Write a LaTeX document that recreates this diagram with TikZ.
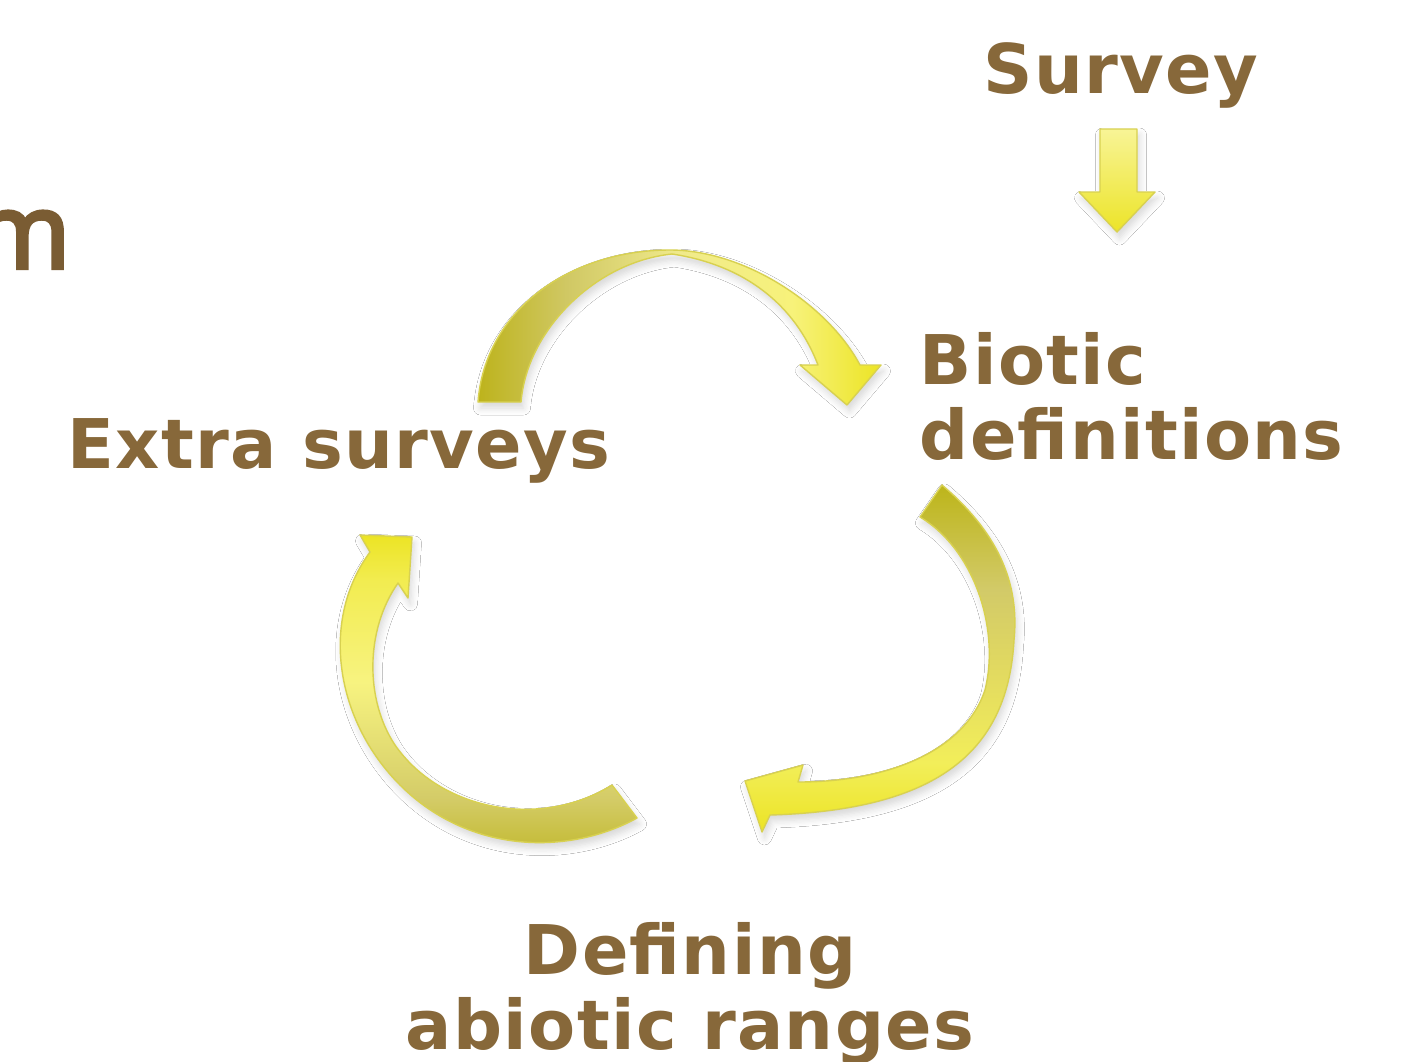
\documentclass[tikz,border=0pt]{standalone}
\usepackage{fontspec}
\setmainfont{DejaVu Sans}
\newfontfamily\headingfont[FakeBold=4]{Open Sans}
\usetikzlibrary{shadows.blur}

\definecolor{labelbrown}{HTML}{87683A}
\definecolor{headbrown}{HTML}{7A5C33}
\definecolor{arrowedge}{HTML}{D8D150}

% gradients of the cycle arrows (the 25bp..75bp band spans the arrow)
\pgfdeclarehorizontalshading{toparc}{100bp}{
  color(0bp)=(rgb,255:red,189;green,179;blue,28);
  color(25bp)=(rgb,255:red,189;green,179;blue,28);
  color(36bp)=(rgb,255:red,208;green,200;blue,100);
  color(50bp)=(rgb,255:red,240;green,234;blue,140);
  color(64bp)=(rgb,255:red,247;green,242;blue,122);
  color(75bp)=(rgb,255:red,236;green,228;blue,36);
  color(100bp)=(rgb,255:red,236;green,228;blue,36)}
\pgfdeclareverticalshading{rightarc}{100bp}{
  color(0bp)=(rgb,255:red,236;green,228;blue,36);
  color(25bp)=(rgb,255:red,236;green,228;blue,36);
  color(35bp)=(rgb,255:red,242;green,238;blue,90);
  color(48bp)=(rgb,255:red,226;green,218;blue,96);
  color(60bp)=(rgb,255:red,210;green,202;blue,104);
  color(75bp)=(rgb,255:red,189;green,181;blue,26);
  color(100bp)=(rgb,255:red,189;green,181;blue,26)}
\pgfdeclareverticalshading{leftarc}{100bp}{
  color(0bp)=(rgb,255:red,194;green,185;blue,48);
  color(25bp)=(rgb,255:red,194;green,185;blue,48);
  color(34bp)=(rgb,255:red,212;green,204;blue,104);
  color(52bp)=(rgb,255:red,247;green,243;blue,128);
  color(68bp)=(rgb,255:red,242;green,236;blue,80);
  color(75bp)=(rgb,255:red,236;green,228;blue,36);
  color(100bp)=(rgb,255:red,236;green,228;blue,36)}
\pgfdeclareverticalshading{downarrow}{100bp}{
  color(0bp)=(rgb,255:red,236;green,228;blue,40);
  color(25bp)=(rgb,255:red,236;green,228;blue,40);
  color(75bp)=(rgb,255:red,248;green,244;blue,150);
  color(100bp)=(rgb,255:red,248;green,244;blue,150)}

\tikzset{
  lbl/.style={text=labelbrown, inner sep=0pt,
    font=\fontsize{19.5pt}{21.3pt}\selectfont\bfseries\addfontfeature{LetterSpace=2}},
  cyclearrow/.style={draw=arrowedge, line width=0.4pt, line join=round,
    blur shadow={shadow xshift=0.25mm, shadow yshift=-0.6mm, shadow blur steps=6,
                 shadow blur radius=0.7mm, shadow blur extra rounding=0mm,
                 shadow opacity=16}},
}

\begin{document}
\begin{tikzpicture}[x=0.1mm, y=-0.1mm]
\useasboundingbox (0,0) rectangle (1411,1061);
\clip (0,0) rectangle (1411,1061);
\fill[white] (0,0) rectangle (1411,1061);

% tail of the slide title, cut by the left edge
\node[text=headbrown, font=\fontsize{29.5pt}{29.5pt}\headingfont, inner sep=0pt, anchor=base east]
  (title) at (71,268) {m};

% labels
\node[lbl, anchor=base west] (survey) at (983,93) {Survey};
\node[lbl, anchor=base west] (extra) at (67,468) {Extra surveys};
\node[lbl, anchor=north west, align=left] (biotic) at (919,332) {Biotic\\definitions};
\node[lbl, anchor=north, align=center] (abiotic) at (690,922) {Defining\\abiotic ranges};

% straight arrow from the survey into the cycle
\path[cyclearrow, shading=downarrow]
  (1100,129) -- (1137,129) -- (1137,192) -- (1155,192) -- (1117,232)
  -- (1079,192) -- (1100,192) -- cycle;

% extra surveys -> biotic definitions
\path[cyclearrow, shading=toparc]
  (478,402) .. controls (485,310) and (570,250) .. (670,250)
  .. controls (745,250) and (828,305) .. (860,365)
  -- (881,365) -- (847,405) -- (800,365) -- (818,365)
  .. controls (795,305) and (745,265) .. (672,254)
  .. controls (595,262) and (527,330) .. (521,402) -- cycle;

% biotic definitions -> defining abiotic ranges
\path[cyclearrow, shading=rightarc]
  (942,485) .. controls (995,530) and (1020,580) .. (1014,640)
  .. controls (1008,750) and (940,810) .. (770,815)
  -- (762,832) -- (745,781) -- (803,765) -- (798,782)
  .. controls (890,782) and (965,750) .. (985,690)
  .. controls (1000,630) and (975,550) .. (920,517) -- cycle;

% defining abiotic ranges -> extra surveys
\path[cyclearrow, shading=leftarc]
  (637,818) .. controls (570,855) and (470,855) .. (400,785)
  .. controls (335,720) and (320,620) .. (370,552)
  -- (360,535) -- (412,537) -- (408,598) -- (398,583)
  .. controls (365,630) and (365,700) .. (395,745)
  .. controls (440,810) and (540,830) .. (612,785) -- cycle;
\end{tikzpicture}
\end{document}
